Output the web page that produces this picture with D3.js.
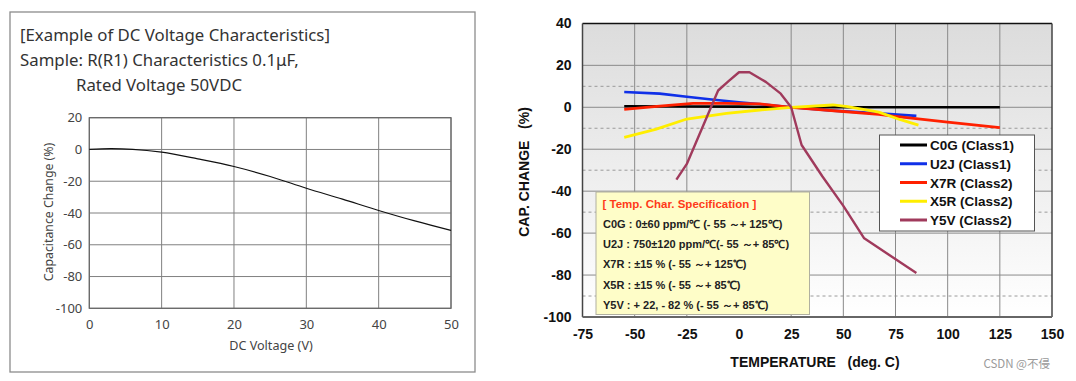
<!DOCTYPE html>
<html><head><meta charset="utf-8">
<script src="https://cdn.jsdelivr.net/npm/d3@7"></script>
<style>body{margin:0;background:#fff;} svg{display:block;}</style>
</head><body>
<svg id="c" width="1076" height="381"></svg>
<script>
// ---------- Left chart data ----------
const dcVoltage = [0, 3, 6, 10, 15, 20, 25, 30, 35, 40, 45, 50];
const dcCapChange = [0, 0.5, 0.1, -1.7, -5.9, -10.7, -17, -24.4, -31.3, -38.4, -45, -51];
const dcXTicks = [0, 10, 20, 30, 40, 50];
const dcYTicks = [20, 0, -20, -40, -60, -80, -100];
const dcTitleLines = ["[Example of DC Voltage Characteristics]", "Sample: R(R1) Characteristics 0.1μF,", "Rated Voltage 50VDC"];

// ---------- Right chart data ----------
const tempXTicks = [-75, -50, -25, 0, 25, 50, 75, 100, 125, 150];
const tempYTicks = [40, 20, 0, -20, -40, -60, -80, -100];
const tempVGrid = [-50, -25, 25, 50, 75, 100, 125];
const tempDashGrid = [10, -10, -30, -50, -90];
const seriesNames = ["C0G (Class1)", "U2J (Class1)", "X7R (Class2)", "X5R (Class2)", "Y5V (Class2)"];
const seriesColors = ["#000000", "#1030e8", "#ff2000", "#ffee00", "#a03a5c"];
const c0gT = [-55, -25, 0, 25, 50, 75, 100, 125];
const c0gV = [0.5, 0.4, 0.3, 0, 0, 0, 0, 0];
const u2jT = [-55, -38, -25, -12, 0, 12, 25, 45, 65, 85];
const u2jV = [7.3, 6.5, 5, 3.6, 2.4, 1.3, 0, -1.6, -2.8, -4.1];
const x7rT = [-55, -38, -22, -6, 10, 25, 50, 67, 75, 100, 125];
const x7rV = [-1, 0.6, 1.9, 1.9, 1.6, 0, -2, -3.4, -4.3, -7.1, -9.7];
const x5rT = [-55, -40, -25, -6, 10, 25, 45, 52, 67, 77, 86];
const x5rV = [-14.3, -10.5, -5.6, -2.9, -1.3, 0, 1.1, 0.3, -2.3, -5.8, -8.5];
const y5vT = [-30, -25, -10, -5, 0, 5, 13, 20, 25, 30, 40, 50, 60, 85];
const y5vV = [-34.5, -27, 8, 12.5, 16.7, 16.7, 12, 6.5, 0, -18, -33, -47, -62.5, -79];
const specTitle = "[ Temp. Char. Specification ]";
const specLines = ["C0G : 0±60 ppm/℃ (- 55 ～+ 125℃)", "U2J : 750±120 ppm/℃(- 55 ～+ 85℃)", "X7R : ±15 % (- 55 ～+ 125℃)", "X5R : ±15 % (- 55 ～+ 85℃)", "Y5V : + 22, - 82 % (- 55 ～+ 85℃)"];

const svg = d3.select("#c");
const fmt = d => String(d);

// ================= LEFT CHART =================
const LF = "'Noto Sans', 'Open Sans', sans-serif";
svg.append("rect").attr("x", 10).attr("y", 12).attr("width", 465).attr("height", 360)
  .attr("fill", "#fff").attr("stroke", "#8c8c8c").attr("stroke-width", 1.3);

const tl = svg.append("g").attr("font-family", LF).attr("font-size", 16.8).attr("fill", "#333");
tl.append("text").attr("x", 20).attr("y", 41).text(dcTitleLines[0]);
tl.append("text").attr("x", 20).attr("y", 66).text(dcTitleLines[1]);
tl.append("text").attr("x", 76).attr("y", 91).text(dcTitleLines[2]);

const xL = d3.scaleLinear().domain([0, 50]).range([89.3, 451]);
const yL = d3.scaleLinear().domain([-100, 20]).range([308.3, 117.7]);

const gL = svg.append("g");
gL.selectAll("line.vx").data(dcXTicks).join("line")
  .attr("x1", d => xL(d)).attr("x2", d => xL(d)).attr("y1", yL(20)).attr("y2", yL(-100))
  .attr("stroke", "#808080").attr("stroke-width", 1);
gL.selectAll("line.hy").data(dcYTicks).join("line")
  .attr("x1", xL(0)).attr("x2", xL(50)).attr("y1", d => yL(d)).attr("y2", d => yL(d))
  .attr("stroke", "#808080").attr("stroke-width", 1);
gL.append("rect").attr("x", xL(0)).attr("y", yL(20)).attr("width", xL(50) - xL(0)).attr("height", yL(-100) - yL(20))
  .attr("fill", "none").attr("stroke", "#666").attr("stroke-width", 1.2);

const axXL = gL.append("g").attr("transform", `translate(0,${yL(-100)})`)
  .call(d3.axisBottom(xL).tickValues(dcXTicks).tickFormat(fmt).tickSize(0).tickPadding(11));
axXL.select(".domain").remove();
axXL.selectAll("text").attr("font-family", LF).attr("font-size", 13).attr("fill", "#444");
const axYL = gL.append("g").attr("transform", `translate(${xL(0)},0)`)
  .call(d3.axisLeft(yL).tickValues(dcYTicks).tickFormat(fmt).tickSize(0).tickPadding(7));
axYL.select(".domain").remove();
axYL.selectAll("text").attr("font-family", LF).attr("font-size", 13).attr("fill", "#444");

gL.append("path").datum(dcVoltage.map((v, i) => [v, dcCapChange[i]]))
  .attr("fill", "none").attr("stroke", "#111").attr("stroke-width", 1.2)
  .attr("d", d3.line().x(d => xL(d[0])).y(d => yL(d[1])).curve(d3.curveMonotoneX));

gL.append("text").attr("x", 271).attr("y", 350).attr("text-anchor", "middle")
  .attr("font-family", LF).attr("font-size", 12.6).attr("fill", "#444").text("DC Voltage (V)");
gL.append("text").attr("transform", "translate(53,212) rotate(-90)").attr("text-anchor", "middle")
  .attr("font-family", LF).attr("font-size", 12.3).attr("fill", "#444").text("Capacitance Change (%)");

// ================= RIGHT CHART =================
const RF = "'Liberation Sans', Arial, sans-serif";
const xR = d3.scaleLinear().domain([-75, 150]).range([582.5, 1052]);
const yR = d3.scaleLinear().domain([-100, 40]).range([317, 23.4]);

const defs = svg.append("defs");
const grad = defs.append("linearGradient").attr("id", "bg").attr("x1", 0).attr("y1", 0).attr("x2", 0).attr("y2", 1);
grad.append("stop").attr("offset", "0%").attr("stop-color", "#dcdcdc");
grad.append("stop").attr("offset", "100%").attr("stop-color", "#ffffff");

const gR = svg.append("g");
gR.append("rect").attr("x", xR(-75)).attr("y", yR(40)).attr("width", xR(150) - xR(-75)).attr("height", yR(-100) - yR(40))
  .attr("fill", "url(#bg)");
gR.selectAll("line.dash").data(tempDashGrid).join("line")
  .attr("x1", xR(-75)).attr("x2", xR(150)).attr("y1", d => yR(d)).attr("y2", d => yR(d))
  .attr("stroke", "#9a9a9a").attr("stroke-width", 1).attr("stroke-dasharray", "3,3");
gR.selectAll("line.hs").data(tempYTicks.filter(d => d !== 40 && d !== -100)).join("line")
  .attr("x1", xR(-75)).attr("x2", xR(150)).attr("y1", d => yR(d)).attr("y2", d => yR(d))
  .attr("stroke", "#8a8a8a").attr("stroke-width", 1);
gR.selectAll("line.vs").data(tempVGrid).join("line")
  .attr("x1", d => xR(d)).attr("x2", d => xR(d)).attr("y1", yR(40)).attr("y2", yR(-100))
  .attr("stroke", "#8a8a8a").attr("stroke-width", 1);
// frame
gR.append("line").attr("x1", xR(-75)).attr("x2", xR(150)).attr("y1", yR(40)).attr("y2", yR(40)).attr("stroke", "#111").attr("stroke-width", 1.5);
gR.append("line").attr("x1", xR(150)).attr("x2", xR(150)).attr("y1", yR(40)).attr("y2", yR(-100)).attr("stroke", "#444").attr("stroke-width", 1.5);
gR.append("line").attr("x1", xR(-75)).attr("x2", xR(-75)).attr("y1", yR(40)).attr("y2", yR(-100)).attr("stroke", "#444").attr("stroke-width", 1.5);
gR.append("line").attr("x1", xR(-75)).attr("x2", xR(150)).attr("y1", yR(-100)).attr("y2", yR(-100)).attr("stroke", "#666").attr("stroke-width", 2);

// series
const allSeries = [[c0gT, c0gV], [u2jT, u2jV], [x7rT, x7rV], [x5rT, x5rV], [y5vT, y5vV]];
const lineR = d3.line().x(d => xR(d[0])).y(d => yR(d[1]));
const seriesWidth = [2.6, 2.6, 2.8, 2.8, 2.4];
[1, 0, 2, 3, 4].forEach(i => {
  const [t, v] = allSeries[i];
  gR.append("path").datum(t.map((tt, k) => [tt, v[k]]))
    .attr("fill", "none").attr("stroke", seriesColors[i]).attr("stroke-width", seriesWidth[i])
    .attr("stroke-linejoin", "round").attr("stroke-linecap", "butt").attr("d", lineR);
});

// axes
const axXR = gR.append("g").attr("transform", `translate(0,${yR(-100)})`)
  .call(d3.axisBottom(xR).tickValues(tempXTicks).tickFormat(fmt).tickSize(0).tickPadding(12));
axXR.select(".domain").remove();
axXR.selectAll("text").attr("font-family", RF).attr("font-weight", "bold").attr("font-size", 14).attr("fill", "#111");
const axYR = gR.append("g").attr("transform", `translate(${xR(-75)},0)`)
  .call(d3.axisLeft(yR).tickValues(tempYTicks).tickFormat(fmt).tickSize(0).tickPadding(11));
axYR.select(".domain").remove();
axYR.selectAll("text").attr("font-family", RF).attr("font-weight", "bold").attr("font-size", 14).attr("fill", "#111");

gR.append("text").attr("x", 815).attr("y", 367).attr("text-anchor", "middle").style("white-space", "pre")
  .attr("font-family", RF).attr("font-weight", "bold").attr("font-size", 14).attr("fill", "#111")
  .text("TEMPERATURE   (deg. C)");
gR.append("text").attr("transform", "translate(529,172) rotate(-90)").attr("text-anchor", "middle").style("white-space", "pre")
  .attr("font-family", RF).attr("font-weight", "bold").attr("font-size", 14).attr("fill", "#111")
  .text("CAP. CHANGE   (%)");

// legend
const leg = gR.append("g");
leg.append("rect").attr("x", 879.5).attr("y", 135).attr("width", 155).attr("height", 96)
  .attr("fill", "#fff").attr("stroke", "#555").attr("stroke-width", 1);
const legY = d3.scalePoint().domain(seriesNames).range([145, 220]);
seriesNames.forEach((n, i) => {
  leg.append("line").attr("x1", 900).attr("x2", 927).attr("y1", legY(n)).attr("y2", legY(n))
    .attr("stroke", seriesColors[i]).attr("stroke-width", 3);
  leg.append("text").attr("x", 930).attr("y", legY(n) + 5).attr("font-family", RF).attr("font-weight", "bold")
    .attr("font-size", 13.5).attr("fill", "#111").text(n);
});

// spec box
const spec = gR.append("g");
spec.append("rect").attr("x", 596).attr("y", 192).attr("width", 213.5).attr("height", 122.5)
  .attr("fill", "#fefdc8").attr("stroke", "#b0b0a0").attr("stroke-width", 1);
spec.append("text").attr("x", 602.5).attr("y", 207.5).attr("font-family", RF).attr("font-weight", "bold")
  .attr("font-size", 11.5).attr("fill", "#ff3a1a").text(specTitle);
const specY = d3.scalePoint().domain(specLines).range([227.5, 309]);
specLines.forEach(s => {
  spec.append("text").attr("x", 603).attr("y", specY(s)).attr("font-family", RF).attr("font-weight", "bold")
    .attr("font-size", 11).attr("fill", "#222").text(s);
});

// watermark
svg.append("text").attr("x", 1050).attr("y", 368).attr("text-anchor", "end")
  .attr("font-family", "'Noto Sans CJK SC', 'Noto Sans', sans-serif").attr("font-size", 11.5).attr("fill", "#9a9a9a")
  .text("CSDN @不侵");
</script>
</body></html>
